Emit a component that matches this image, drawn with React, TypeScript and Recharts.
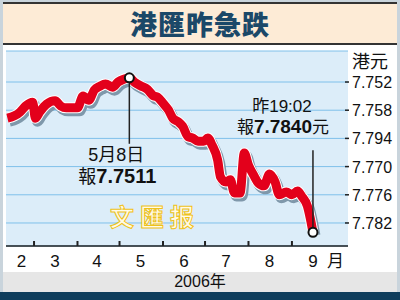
import React from 'react';
import { LineChart, Line, XAxis, YAxis, CartesianGrid } from 'recharts';

// day of year (2006) and HKD rate per USD
const days = [
  41, 46, 50, 54, 59, 61, 64, 69, 75, 79, 83, 87, 91, 95, 99, 103, 107, 111, 116, 120, 124, 128,
  132, 136, 141, 145, 148, 152, 156, 159, 163, 166, 170, 173, 177, 181, 184, 187, 191, 193, 197,
  200, 203, 207, 210, 213, 217, 220, 224, 228, 232, 235, 240, 244, 248, 251, 255, 257, 259,
];
const rates = [
  7.7597, 7.7592, 7.7584, 7.7571, 7.7563, 7.7597, 7.7584, 7.7567, 7.756, 7.7571, 7.7575, 7.7575,
  7.7575, 7.755, 7.7559, 7.7537, 7.7529, 7.7524, 7.7531, 7.752, 7.7514, 7.7511, 7.7521, 7.7528,
  7.7536, 7.7549, 7.7552, 7.7565, 7.758, 7.7597, 7.7605, 7.7614, 7.7637, 7.7639, 7.7646, 7.7646,
  7.7639, 7.7654, 7.7686, 7.7722, 7.7733, 7.7728, 7.7756, 7.7756, 7.7671, 7.7697, 7.772, 7.7735,
  7.7741, 7.7716, 7.7733, 7.776, 7.7754, 7.776, 7.7752, 7.7763, 7.7784, 7.7809, 7.784,
];

const yTicks = [7.752, 7.758, 7.764, 7.77, 7.776, 7.782];
const yTickLabels = ['7.752', '7.758', '7.794', '7.770', '7.776', '7.782'];

const monthStarts = [60, 91, 121, 152, 182, 213, 244];
const monthLabelDays = [51, 75, 105, 136, 167, 197, 228, 259, 275];
const monthLabels = ['2', '3', '4', '5', '6', '7', '8', '9', '月'];

const peakIndex = 21;
const lastIndex = rates.length - 1;

const data = days.map((d, i) => ({ day: d, rate: rates[i] }));

const FONT = "'Liberation Sans', 'Noto Sans CJK TC', sans-serif";

const XTick = ({ x, y, payload }: any) => {
  const v = payload.value;
  const si = monthStarts.indexOf(v);
  if (si >= 0) {
    return <line x1={x} x2={x} y1={y} y2={y - 5} stroke="#222" strokeWidth={2} />;
  }
  const li = monthLabelDays.indexOf(v);
  return (
    <text x={x} y={y + 21} textAnchor="middle" fontSize={17} fill="#111" fontFamily={FONT}>
      {monthLabels[li]}
    </text>
  );
};

const YTick = ({ x, y, index }: any) => (
  <g>
    <line x1={x - 3} x2={x + 1} y1={y} y2={y} stroke="#222" strokeWidth={1.5} />
    <text x={x + 4} y={y + 6} fontSize={16} fill="#111" fontFamily={FONT}>
      {yTickLabels[index]}
    </text>
  </g>
);

const Marker = (props: any) => {
  const { cx, cy, index } = props;
  if (index === peakIndex) {
    return (
      <g key="peak">
        <line x1={cx} x2={cx} y1={cy} y2={cy + 66} stroke="#222" strokeWidth={1.5} />
        <circle cx={cx} cy={cy} r={4.5} fill="#fff" stroke="#111" strokeWidth={2} />
        <text x={cx - 13} y={cy + 83} textAnchor="middle" fontSize={18} fill="#111" fontFamily={FONT}>
          5月8日
        </text>
        <text x={cx - 12} y={cy + 105} textAnchor="middle" fontSize={18} fill="#111" fontFamily={FONT}>
          報<tspan fontWeight="bold" fontSize={20}>7.7511</tspan>
        </text>
      </g>
    );
  }
  if (index === lastIndex) {
    return (
      <g key="last">
        <line x1={cx} x2={cx} y1={cy - 82} y2={cy} stroke="#222" strokeWidth={1.5} />
        <circle cx={cx} cy={cy} r={4.5} fill="#fff" stroke="#111" strokeWidth={2} />
        <text x={cx - 31} y={cy - 120} textAnchor="middle" fontSize={17} fill="#111" fontFamily={FONT}>
          昨19:02
        </text>
        <text x={cx - 30} y={cy - 99} textAnchor="middle" fontSize={17} fill="#111" fontFamily={FONT}>
          報<tspan fontWeight="bold" fontSize={19}>7.7840</tspan>元
        </text>
      </g>
    );
  }
  return null;
};

export default function App() {
  return (
    <div
      style={{
        position: 'fixed',
        left: 0,
        top: 0,
        width: 400,
        height: 300,
        background: '#c9d4dc',
        overflow: 'hidden',
        fontFamily: FONT,
      }}
    >
      <style>{`.shadow-line { filter: drop-shadow(2px 3px 0 #7f98ab); }`}</style>
      <div style={{ position: 'absolute', left: 3, top: 3, width: 394, height: 289, background: '#fff' }} />
      <div
        style={{
          position: 'absolute',
          left: 3,
          top: 2,
          width: 394,
          height: 39,
          background: '#fdebd6',
          borderTop: '2px solid #333',
          borderBottom: '2px solid #333',
          textAlign: 'center',
          lineHeight: '39px',
          fontSize: 27,
          fontWeight: 900,
          color: '#1b4868',
          fontFamily: "'Noto Sans CJK TC', sans-serif",
          letterSpacing: 1,
        }}
      >
        港匯昨急跌
      </div>
      <div style={{ position: 'absolute', left: 352, top: 47, fontSize: 18, color: '#111' }}>港元</div>
      <div
        style={{
          position: 'absolute',
          left: 3,
          top: 272,
          width: 394,
          height: 20,
          background: '#e6e6e6',
          textAlign: 'center',
          lineHeight: '20px',
          fontSize: 16,
          color: '#111',
        }}
      >
        2006年
      </div>
      <div style={{ position: 'absolute', left: 0, top: 292, width: 400, height: 8, background: '#0f3d5c' }} />
      <div
        style={{
          position: 'absolute',
          left: 110,
          top: 198,
          fontSize: 24,
          fontWeight: 'bold',
          letterSpacing: 6,
          color: '#fffbe6',
          WebkitTextStroke: '1px #efc21a',
          fontFamily: "'Noto Sans CJK SC', serif",
          zIndex: 2,
        }}
      >
        文匯报
      </div>
      <div style={{ position: 'absolute', left: 0, top: 0, zIndex: 1 }}>
        <LineChart width={400} height={300} data={data} margin={{ top: 51, right: 0, left: 6, bottom: 0 }}>
          <CartesianGrid vertical={false} fill="#dcedf9" stroke="#7fc0ea" strokeWidth={1} />
          <XAxis
            dataKey="day"
            type="number"
            domain={[40, 284]}
            allowDataOverflow
            ticks={[...monthStarts, ...monthLabelDays]}
            interval={0}
            tickLine={false}
            tickSize={0}
            tickMargin={0}
            height={54}
            axisLine={{ stroke: '#222', strokeWidth: 1.5 }}
            tick={<XTick />}
          />
          <YAxis
            orientation="right"
            type="number"
            domain={[7.7454, 7.7869]}
            reversed
            allowDataOverflow
            ticks={yTicks}
            interval={0}
            width={52}
            tickLine={false}
            tickSize={0}
            tickMargin={0}
            axisLine={false}
            tick={<YTick />}
          />
          <Line
            dataKey="rate"
            type="monotone"
            stroke="#ffffff"
            strokeWidth={11}
            strokeLinejoin="round"
            dot={false}
            className="shadow-line"
            isAnimationActive={false}
          />
          <Line
            dataKey="rate"
            type="monotone"
            stroke="#e3001b"
            strokeWidth={9}
            strokeLinejoin="round"
            dot={Marker}
            activeDot={false}
            isAnimationActive={false}
          />
        </LineChart>
      </div>
    </div>
  );
}
